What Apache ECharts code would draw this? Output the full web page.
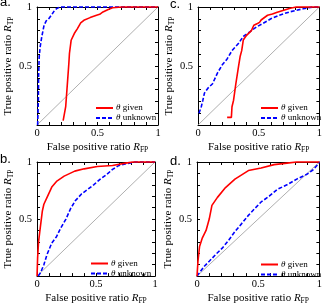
<!DOCTYPE html>
<html><head><meta charset="utf-8">
<script src="https://cdn.jsdelivr.net/npm/echarts@6/dist/echarts.min.js"></script>
<style>html,body{margin:0;padding:0;background:#fff}#c{width:325px;height:306px}</style>
</head><body><div id="c"></div>
<script>
// Panel letters
const panelLabels = ['a.', 'b.', 'c.', 'd.'];
// Tick labels
const xTickLabels = ['0', '0.5', '1'];
const yTickLabels = ['0.5', '1'];
const seriesNames = ['given', 'unknown'];

// Panel a
const aGiven = [[0.216,0.037],[0.237,0.155],[0.247,0.296],[0.255,0.408],[0.263,0.521],[0.268,0.606],[0.282,0.718],[0.308,0.775],[0.334,0.817],[0.361,0.865],[0.387,0.887],[0.439,0.91],[0.492,0.93],[0.518,0.938],[0.545,0.958],[0.584,0.977],[0.624,0.994],[0.703,1],[1,1]];
const aUnknown = [[0.005,0],[0.011,0.21],[0.013,0.41],[0.018,0.577],[0.026,0.662],[0.039,0.746],[0.058,0.845],[0.076,0.882],[0.097,0.901],[0.124,0.938],[0.145,0.972],[0.163,0.986],[0.189,1],[1,1]];
// Panel b
const bGiven = [[0,0],[0.005,0.16],[0.013,0.3],[0.027,0.42],[0.045,0.57],[0.058,0.63],[0.085,0.69],[0.125,0.78],[0.165,0.83],[0.23,0.876],[0.32,0.92],[0.4,0.94],[0.51,0.96],[0.64,0.97],[0.75,0.99],[0.815,1],[1,1]];
const bUnknown = [[0.01,0],[0.03,0.03],[0.058,0.1],[0.085,0.19],[0.125,0.29],[0.165,0.345],[0.2,0.42],[0.245,0.5],[0.284,0.59],[0.324,0.66],[0.377,0.72],[0.43,0.76],[0.48,0.8],[0.536,0.85],[0.59,0.89],[0.64,0.935],[0.695,0.97],[0.76,0.986],[0.83,1],[1,1]];
// Panel c
const cGiven = [[0.24,0.065],[0.275,0.065],[0.28,0.155],[0.293,0.21],[0.312,0.35],[0.333,0.49],[0.347,0.58],[0.36,0.63],[0.373,0.72],[0.4,0.76],[0.44,0.8],[0.46,0.845],[0.49,0.86],[0.507,0.87],[0.52,0.89],[0.573,0.93],[0.613,0.94],[0.653,0.955],[0.76,0.99],[0.81,1],[1,1]];
const cUnknown = [[0.008,0.1],[0.027,0.155],[0.04,0.21],[0.053,0.27],[0.08,0.31],[0.12,0.35],[0.16,0.44],[0.2,0.51],[0.24,0.56],[0.28,0.63],[0.333,0.69],[0.373,0.75],[0.427,0.79],[0.48,0.83],[0.533,0.86],[0.6,0.9],[0.667,0.93],[0.76,0.96],[0.867,0.985],[0.947,1],[1,1]];
// Panel d
const dGiven = [[0,0],[0.008,0.13],[0.021,0.26],[0.042,0.33],[0.074,0.4],[0.1,0.5],[0.122,0.62],[0.167,0.69],[0.233,0.776],[0.31,0.85],[0.42,0.925],[0.524,0.948],[0.63,0.977],[0.735,0.99],[0.815,1],[1,1]];
const dUnknown = [[0,0],[0.02,0.03],[0.06,0.086],[0.1,0.13],[0.153,0.19],[0.206,0.245],[0.26,0.316],[0.31,0.39],[0.365,0.46],[0.418,0.53],[0.47,0.59],[0.524,0.65],[0.59,0.7],[0.656,0.76],[0.735,0.8],[0.815,0.85],[0.894,0.89],[0.947,0.93],[0.987,0.977],[1,1]];
const diagonal = [[0,0],[1,1]];

const SERIF = 'Liberation Serif';
const panels = [
  {label: panelLabels[0], given: aGiven, unknown: aUnknown, grid: {left: 31, top: 7, width: 127, height: 118}, lab: [0, 2], leg: {left: 95, top: 103.5}},
  {label: panelLabels[1], given: bGiven, unknown: bUnknown, grid: {left: 29, top: 162, width: 126, height: 116}, lab: [0, 159], leg: {left: 90, top: 259}},
  {label: panelLabels[2], given: cGiven, unknown: cUnknown, grid: {left: 198, top: 7, width: 125, height: 118}, lab: [170, 4.4], leg: {left: 260, top: 103.5}},
  {label: panelLabels[3], given: dGiven, unknown: dUnknown, grid: {left: 197, top: 162, width: 126, height: 116}, lab: [170, 160.8], leg: {left: 260, top: 260}}
];

function near(v, t) { return Math.abs(v - t) < 1e-6; }
function fmtX(v) { for (const s of xTickLabels) if (near(v, parseFloat(s))) return s; return ''; }
function fmtY(v) { for (const s of yTickLabels) if (near(v, parseFloat(s))) return s; return ''; }

const nameRich = {
  i: {fontFamily: SERIF, fontStyle: 'italic', fontSize: 11, lineHeight: 14, color: '#000'},
  s: {fontFamily: SERIF, fontSize: 7.5, lineHeight: 8, verticalAlign: 'bottom', color: '#000'}
};

const grid = [], xAxis = [], yAxis = [], series = [], legend = [], graphic = [];
panels.forEach((p, k) => {
  grid.push(Object.assign({containLabel: false}, p.grid));
  const common = {type: 'value', min: 0, max: 1, interval: 0.1, gridIndex: k,
    axisLine: {show: true, onZero: false, lineStyle: {color: '#000', width: 1}},
    axisTick: {show: true, inside: true, length: 3, lineStyle: {color: '#000', width: 1}},
    splitLine: {show: false}};
  xAxis.push(Object.assign({}, common, {position: 'bottom',
    axisLabel: {show: true, formatter: fmtX, margin: 3, color: '#000', fontFamily: SERIF, fontSize: 10.5},
    name: 'False positive ratio {i|R}{s|FP}', nameLocation: 'middle', nameGap: 13,
    nameTextStyle: {fontFamily: SERIF, fontSize: 11, lineHeight: 14, color: '#000', rich: nameRich}}));
  xAxis.push(Object.assign({}, common, {position: 'top', axisLabel: {show: false}}));
  yAxis.push(Object.assign({}, common, {position: 'left',
    axisLabel: {show: true, formatter: fmtY, margin: 5, color: '#000', fontFamily: SERIF, fontSize: 10.5},
    name: 'True positive ratio {i|R}{s|TP}', nameLocation: 'middle', nameRotate: 90, nameGap: 17,
    nameTextStyle: {fontFamily: SERIF, fontSize: 11, lineHeight: 14, color: '#000', rich: nameRich}}));
  yAxis.push(Object.assign({}, common, {position: 'right', axisLabel: {show: false}}));
  const xi = 2 * k, yi = 2 * k;
  series.push({type: 'line', xAxisIndex: xi, yAxisIndex: yi, data: diagonal, symbol: 'none', silent: true,
    lineStyle: {color: '#9a9a9a', width: 0.8}, z: 1});
  series.push({type: 'line', name: seriesNames[0], xAxisIndex: xi, yAxisIndex: yi, data: p.given, symbol: 'none', clip: false,
    lineStyle: {color: '#ff0000', width: 1.6}, itemStyle: {color: '#ff0000'}, z: 3});
  series.push({type: 'line', name: seriesNames[1], xAxisIndex: xi, yAxisIndex: yi, data: p.unknown, symbol: 'none', clip: false,
    lineStyle: {color: '#0000ff', width: 1.6, type: [4, 2]}, itemStyle: {color: '#0000ff'}, z: 2});
  legend.push({left: p.leg.left, top: p.leg.top, orient: 'vertical', data: seriesNames, itemWidth: 17, itemHeight: 8, itemGap: 1,
    selectedMode: false, padding: 0,
    itemStyle: {opacity: 0},
    formatter: n => '{i|θ} ' + n,
    textStyle: {fontFamily: SERIF, fontSize: 9, lineHeight: 9, color: '#000', padding: [0, 0, 0, -2],
      rich: {i: {fontFamily: SERIF, fontStyle: 'italic', fontSize: 9, lineHeight: 9, color: '#000'}}}});
  graphic.push({type: 'text', left: p.lab[0], top: p.lab[1] - 6, style: {text: p.label, fontFamily: 'Liberation Sans', fontSize: 13, fill: '#000'}});
});

const chart = echarts.init(document.getElementById('c'), null, {renderer: 'canvas'});
chart.setOption({animation: false, backgroundColor: '#fff', grid, xAxis, yAxis, series, legend, graphic});
</script></body></html>
